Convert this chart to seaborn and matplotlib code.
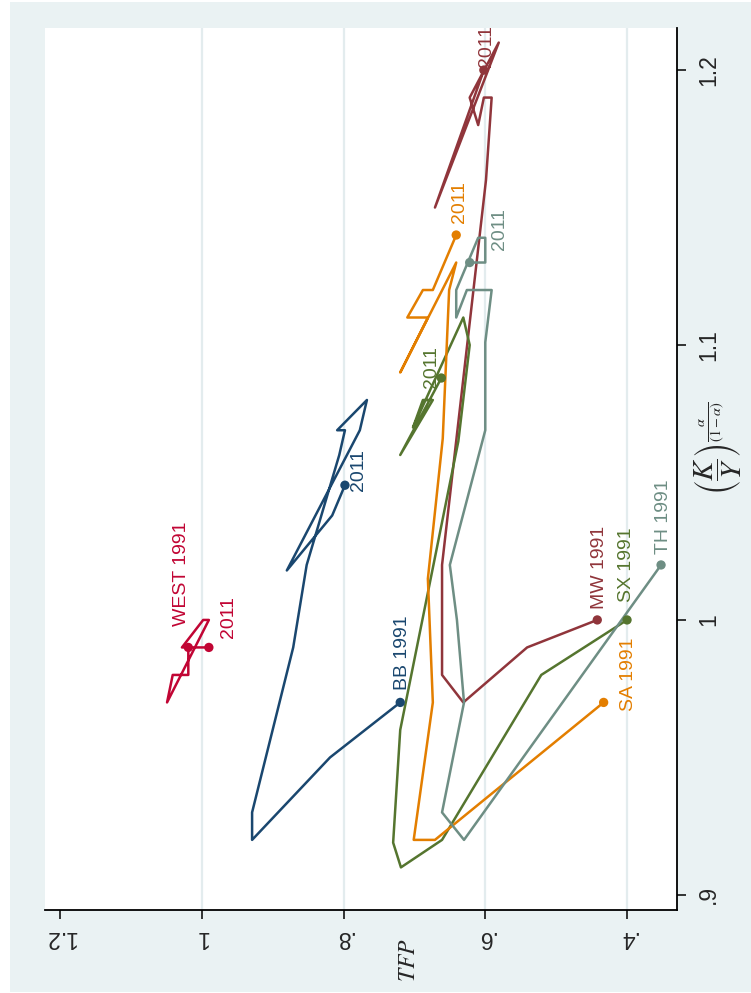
import numpy as np
import pandas as pd
import seaborn as sns
import matplotlib.pyplot as plt
from matplotlib.patches import Rectangle

# TFP vs (K/Y)^(a/(1-a)), 1991-2011, drawn rotated like the original scan

regions = ['BB', 'MW', 'SX', 'SA', 'TH', 'WEST']
colors = {'BB': '#1A476F', 'MW': '#90353B', 'SX': '#55752F',
          'SA': '#E37E00', 'TH': '#6E8E84', 'WEST': '#C10534'}

bb_tfp = [0.720, 0.819, 0.929, 0.929, 0.871, 0.852, 0.806, 0.798, 0.809, 0.767, 0.777, 0.880, 0.816, 0.798]
bb_ky = [0.970, 0.950, 0.920, 0.930, 0.990, 1.020, 1.060, 1.069, 1.069, 1.080, 1.069, 1.018, 1.038, 1.049]

mw_tfp = [0.442, 0.541, 0.631, 0.661, 0.661, 0.599, 0.591, 0.602, 0.610, 0.622, 0.581, 0.671, 0.602]
mw_ky = [1.000, 0.990, 0.970, 0.980, 1.020, 1.160, 1.190, 1.190, 1.180, 1.190, 1.210, 1.150, 1.200]

sx_tfp = [0.400, 0.521, 0.661, 0.719, 0.730, 0.720, 0.638, 0.622, 0.631, 0.702, 0.688, 0.674, 0.720, 0.662]
sx_ky = [1.000, 0.980, 0.920, 0.910, 0.919, 0.960, 1.065, 1.100, 1.110, 1.070, 1.080, 1.080, 1.060, 1.088]

sa_tfp = [0.433, 0.671, 0.701, 0.674, 0.681, 0.660, 0.651, 0.641, 0.720, 0.681, 0.710, 0.688, 0.674, 0.641]
sa_ky = [0.970, 0.920, 0.920, 0.970, 1.015, 1.066, 1.120, 1.130, 1.090, 1.110, 1.110, 1.120, 1.120, 1.140]

th_tfp = [0.352, 0.630, 0.661, 0.630, 0.640, 0.650, 0.600, 0.600, 0.591, 0.626, 0.641, 0.641, 0.610, 0.600, 0.600, 0.622]
th_ky = [1.020, 0.920, 0.930, 0.970, 1.000, 1.020, 1.069, 1.101, 1.120, 1.120, 1.110, 1.120, 1.139, 1.139, 1.130, 1.130]

west_tfp = [1.019, 1.019, 1.041, 1.049, 0.990, 0.998, 1.028, 0.990]
west_ky = [0.990, 0.980, 0.980, 0.970, 1.000, 1.000, 0.990, 0.990]

series = {'BB': (bb_tfp, bb_ky), 'MW': (mw_tfp, mw_ky), 'SX': (sx_tfp, sx_ky),
          'SA': (sa_tfp, sa_ky), 'TH': (th_tfp, th_ky), 'WEST': (west_tfp, west_ky)}

# label text, offsets in pixels (right, up) from the marker
start_labels = {'BB': ('BB 1991', 2, 12), 'MW': ('MW 1991', 2, 11), 'SX': ('SX 1991', -1, 18),
                'SA': ('SA 1991', 25, -9), 'TH': ('TH 1991', 2, 11), 'WEST': ('WEST 1991', -7, 21)}
end_labels = {'BB': ('2011', 14, -6), 'MW': ('2011', 3, 3), 'SX': ('2011', -10, -10),
              'SA': ('2011', 3, 12), 'TH': ('2011', 30, 13), 'WEST': ('2011', 20, 9)}

rows = []
for r in regions:
    t, k = series[r]
    for i in range(len(t)):
        rows.append({'region': r, 'step': i, 'tfp': t[i], 'ky': k[i]})
df = pd.DataFrame(rows)
ends = pd.concat([df.groupby('region').head(1), df.groupby('region').tail(1)])

sns.set_style('white')
plt.rcParams['font.family'] = ['Liberation Sans', 'DejaVu Sans']
plt.rcParams['mathtext.fontset'] = 'stix'

fig = plt.figure(figsize=(7.51, 9.93), dpi=100)
fig.patch.set_facecolor('white')
fig.add_artist(Rectangle((10 / 751, 1 / 993), 741 / 751, 990 / 993, transform=fig.transFigure,
                         facecolor='#EAF2F3', edgecolor='none', zorder=-10))

ax = fig.add_axes([45 / 751, 1 - 910 / 993, 632 / 751, 882 / 993])
ax.set_facecolor('white')

for v in [0.4, 0.6, 0.8, 1.0]:
    ax.axvline(v, color='#E3ECEE', lw=1.6, zorder=0)

sns.lineplot(data=df, x='tfp', y='ky', hue='region', palette=colors, sort=False,
             estimator=None, lw=1.8, legend=False, ax=ax)
sns.scatterplot(data=ends, x='tfp', y='ky', hue='region', palette=colors, s=45,
                linewidth=0, legend=False, ax=ax, zorder=3)

px = 0.72
for r in regions:
    t, k = series[r]
    txt, dx, dy = start_labels[r]
    ax.annotate(txt, xy=(t[0], k[0]), xytext=(dx * px, dy * px), textcoords='offset points',
                rotation=90, ha='center', va='bottom', color=colors[r], fontsize=14)
    txt, dx, dy = end_labels[r]
    ax.annotate(txt, xy=(t[-1], k[-1]), xytext=(dx * px, dy * px), textcoords='offset points',
                rotation=90, ha='center', va='bottom', color=colors[r], fontsize=14)

ax.set_xlim(1.2212, 0.3295)
ax.set_ylim(0.8945, 1.2153)
ax.set_xticks([0.4, 0.6, 0.8, 1.0, 1.2])
ax.set_xticklabels(['.4', '.6', '.8', '1', '1.2'], rotation=180, fontsize=16.5)
ax.yaxis.tick_right()
ax.set_yticks([0.9, 1.0, 1.1, 1.2])
ax.set_yticklabels(['.9', '1', '1.1', '1.2'], rotation=90, va='center', fontsize=16.5)
ax.tick_params(axis='x', length=6.5, width=1.1, pad=5, color='black', bottom=True)
ax.tick_params(axis='y', length=6.5, width=1.1, pad=8, color='black', right=True, left=False)
ax.set_xlabel('')
ax.set_ylabel('')
for s in ['left', 'top']:
    ax.spines[s].set_visible(False)
for s in ['bottom', 'right']:
    ax.spines[s].set_visible(True)
    ax.spines[s].set_color('black')
    ax.spines[s].set_linewidth(1.3)

fig.text(409 / 751, 1 - 960 / 993, r'$TFP$', rotation=90, ha='center', va='center', fontsize=17)
fig.text(718 / 751, 1 - 448 / 993, r'$\left(\dfrac{K}{Y}\right)^{\frac{\alpha}{(1-\alpha)}}$',
         rotation=90, ha='center', va='center', fontsize=21)

fig.savefig('out.png', dpi=100)
